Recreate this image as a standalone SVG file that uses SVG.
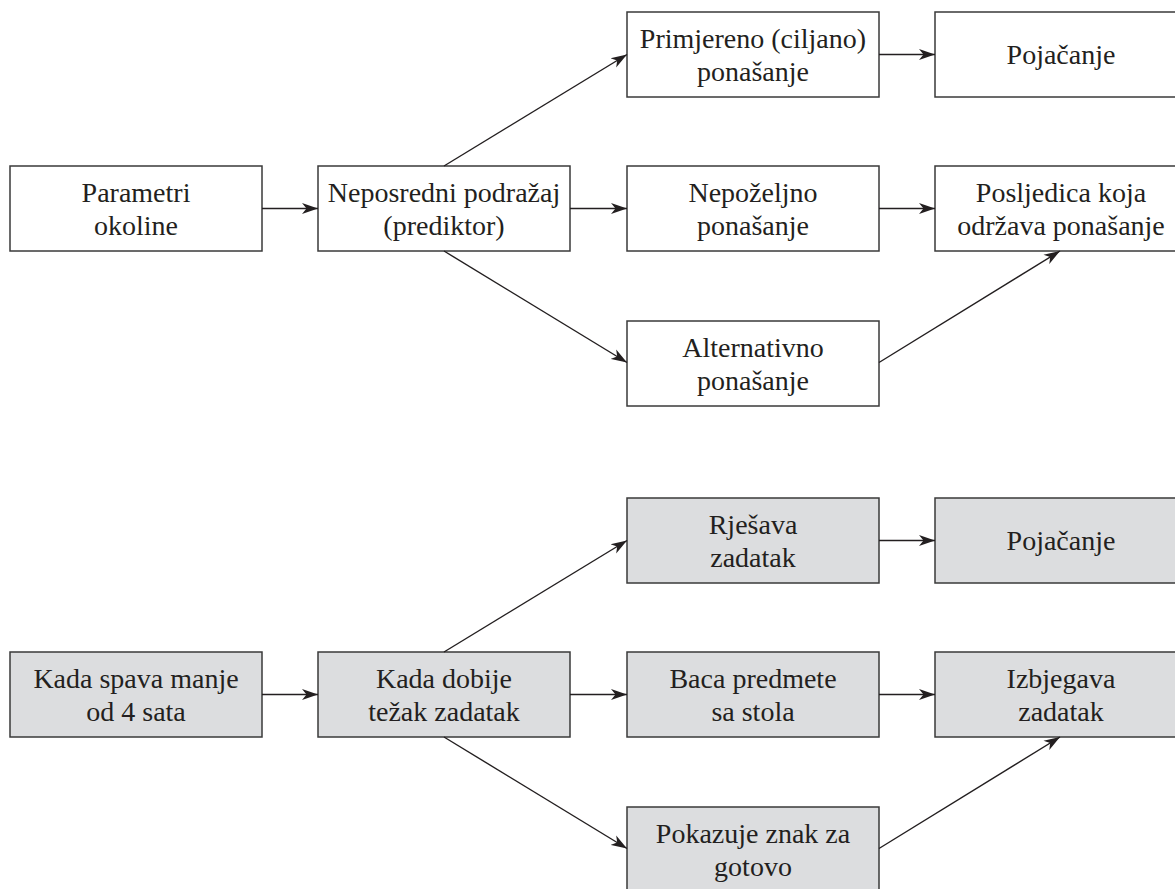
<svg xmlns="http://www.w3.org/2000/svg" width="1175" height="889" viewBox="0 0 1175 889">
<style>
.b{fill:#ffffff;stroke:#3a3a3a;stroke-width:1.5}
.g{fill:#dcdddf;stroke:#3a3a3a;stroke-width:1.5}
text{font-family:'Liberation Serif', 'DejaVu Serif', serif;font-size:28px;fill:#231f20;text-anchor:middle}
.c line{stroke:#231f20;stroke-width:1.4;fill:none;marker-end:url(#ah)}
</style>
<defs>
<marker id="ah" markerUnits="userSpaceOnUse" markerWidth="18" markerHeight="12" refX="16" refY="6" orient="auto">
<path d="M0,0.5 L16,6 L0,11.5 L4.5,6 z" fill="#231f20"/>
</marker>
</defs>
<rect width="1175" height="889" fill="#ffffff"/>
<g id="n1"><rect class="b" x="10" y="166" width="252" height="85"/><text x="136" y="202">Parametri</text><text x="136" y="235">okoline</text></g>
<g id="n2"><rect class="b" x="318" y="166" width="252" height="85"/><text x="444" y="202">Neposredni podražaj</text><text x="444" y="235">(prediktor)</text></g>
<g id="n3"><rect class="b" x="627" y="12" width="252" height="85"/><text x="753" y="48">Primjereno (ciljano)</text><text x="753" y="81">ponašanje</text></g>
<g id="n4"><rect class="b" x="935" y="12" width="252" height="85"/><text x="1061" y="64">Pojačanje</text></g>
<g id="n5"><rect class="b" x="627" y="166" width="252" height="85"/><text x="753" y="202">Nepoželjno</text><text x="753" y="235">ponašanje</text></g>
<g id="n6"><rect class="b" x="935" y="166" width="252" height="85"/><text x="1061" y="202">Posljedica koja</text><text x="1061" y="235">održava ponašanje</text></g>
<g id="n7"><rect class="b" x="627" y="321" width="252" height="85"/><text x="753" y="357">Alternativno</text><text x="753" y="390">ponašanje</text></g>
<g id="n8"><rect class="g" x="10" y="652" width="252" height="85"/><text x="136" y="688">Kada spava manje</text><text x="136" y="721">od 4 sata</text></g>
<g id="n9"><rect class="g" x="318" y="652" width="252" height="85"/><text x="444" y="688">Kada dobije</text><text x="444" y="721">težak zadatak</text></g>
<g id="n10"><rect class="g" x="627" y="498" width="252" height="85"/><text x="753" y="534">Rješava</text><text x="753" y="567">zadatak</text></g>
<g id="n11"><rect class="g" x="935" y="498" width="252" height="85"/><text x="1061" y="550">Pojačanje</text></g>
<g id="n12"><rect class="g" x="627" y="652" width="252" height="85"/><text x="753" y="688">Baca predmete</text><text x="753" y="721">sa stola</text></g>
<g id="n13"><rect class="g" x="935" y="652" width="252" height="85"/><text x="1061" y="688">Izbjegava</text><text x="1061" y="721">zadatak</text></g>
<g id="n14"><rect class="g" x="627" y="807" width="252" height="85"/><text x="753" y="843">Pokazuje znak za</text><text x="753" y="876">gotovo</text></g>
<g id="connectors" class="c">
<line x1="262" y1="208.5" x2="318" y2="208.5"/>
<line x1="444" y1="166" x2="627" y2="54.5"/>
<line x1="570" y1="208.5" x2="627" y2="208.5"/>
<line x1="444" y1="251" x2="627" y2="362.5"/>
<line x1="879" y1="54.5" x2="935" y2="54.5"/>
<line x1="879" y1="208.5" x2="935" y2="208.5"/>
<line x1="879" y1="362.5" x2="1060" y2="251"/>
<line x1="262" y1="694.5" x2="318" y2="694.5"/>
<line x1="444" y1="652" x2="627" y2="540.5"/>
<line x1="570" y1="694.5" x2="627" y2="694.5"/>
<line x1="444" y1="737" x2="627" y2="848.5"/>
<line x1="879" y1="540.5" x2="935" y2="540.5"/>
<line x1="879" y1="694.5" x2="935" y2="694.5"/>
<line x1="879" y1="848.5" x2="1060" y2="737"/>
</g>
</svg>
